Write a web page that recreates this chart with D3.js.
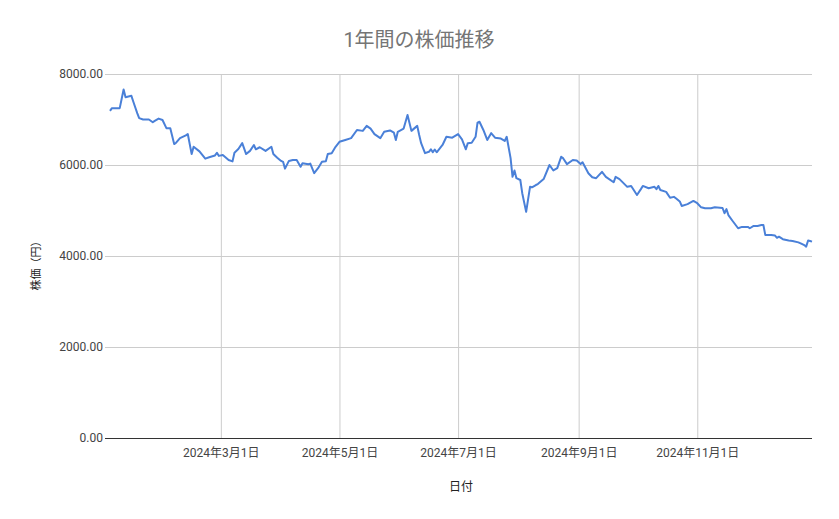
<!DOCTYPE html>
<html lang="ja">
<head>
    <meta charset="UTF-8">
    <script src="https://cdnjs.cloudflare.com/ajax/libs/d3/7.8.5/d3.min.js"></script>
    <title>1年間の株価推移</title>
    <style>
        body { margin: 0; background: #fff; }
        text { font-family: Roboto, 'Noto Sans CJK JP', sans-serif; }
    </style>
</head>
<body>
    <div id="chart"></div>

    <script>
    // data (daily close, yen)
    let dates = [
        "2024-01-04","2024-01-05","2024-01-09","2024-01-11","2024-01-12","2024-01-13","2024-01-15","2024-01-16",
        "2024-01-18","2024-01-19","2024-01-21","2024-01-24","2024-01-26","2024-01-27","2024-01-29","2024-01-31",
        "2024-02-02","2024-02-04","2024-02-06","2024-02-07","2024-02-09","2024-02-12","2024-02-13","2024-02-15",
        "2024-02-16","2024-02-19","2024-02-22","2024-02-24","2024-02-27","2024-02-28","2024-02-29","2024-03-02",
        "2024-03-05","2024-03-07","2024-03-08","2024-03-10","2024-03-12","2024-03-14","2024-03-16","2024-03-18",
        "2024-03-19","2024-03-21","2024-03-24","2024-03-27","2024-03-28","2024-03-30","2024-04-01","2024-04-02",
        "2024-04-03","2024-04-05","2024-04-07","2024-04-09","2024-04-11","2024-04-12","2024-04-15","2024-04-16",
        "2024-04-18","2024-04-20","2024-04-22","2024-04-24","2024-04-25","2024-04-27","2024-04-29","2024-05-01",
        "2024-05-04","2024-05-07","2024-05-10","2024-05-13","2024-05-15","2024-05-17","2024-05-19","2024-05-22",
        "2024-05-24","2024-05-27","2024-05-29","2024-05-30","2024-05-31","2024-06-03","2024-06-05","2024-06-07",
        "2024-06-10","2024-06-11","2024-06-12","2024-06-14","2024-06-16","2024-06-17","2024-06-18","2024-06-19",
        "2024-06-20","2024-06-23","2024-06-25","2024-06-28","2024-07-01","2024-07-03","2024-07-05","2024-07-06",
        "2024-07-08","2024-07-10","2024-07-11","2024-07-12","2024-07-14","2024-07-16","2024-07-18","2024-07-20",
        "2024-07-23","2024-07-25","2024-07-26","2024-07-28","2024-07-29","2024-07-30","2024-07-31","2024-08-02",
        "2024-08-03","2024-08-05","2024-08-07","2024-08-08","2024-08-10","2024-08-11","2024-08-14","2024-08-17",
        "2024-08-19","2024-08-21","2024-08-23","2024-08-24","2024-08-26","2024-08-29","2024-08-31","2024-09-02",
        "2024-09-03","2024-09-06","2024-09-08","2024-09-10","2024-09-13","2024-09-15","2024-09-19","2024-09-20",
        "2024-09-22","2024-09-26","2024-09-28","2024-10-01","2024-10-03","2024-10-04","2024-10-07","2024-10-10",
        "2024-10-11","2024-10-12","2024-10-13","2024-10-16","2024-10-18","2024-10-20","2024-10-21","2024-10-23",
        "2024-10-24","2024-10-27","2024-10-30","2024-11-01","2024-11-03","2024-11-05","2024-11-08","2024-11-10",
        "2024-11-14","2024-11-15","2024-11-16","2024-11-17","2024-11-19","2024-11-22","2024-11-24","2024-11-27",
        "2024-11-28","2024-11-30","2024-12-02","2024-12-04","2024-12-05","2024-12-06","2024-12-09","2024-12-11",
        "2024-12-12","2024-12-13","2024-12-15","2024-12-18","2024-12-20","2024-12-23","2024-12-25","2024-12-26",
        "2024-12-27","2024-12-28","2024-12-29","2024-12-30"
    ];
    let prices = [
        7190, 7250, 7250, 7660, 7490, 7500, 7520, 7390,
        7140, 7030, 7000, 7000, 6940, 6970, 7020, 6990,
        6810, 6810, 6460, 6490, 6590, 6650, 6680, 6240,
        6400, 6300, 6140, 6170, 6210, 6270, 6200, 6220,
        6110, 6080, 6270, 6350, 6480, 6240, 6310, 6440,
        6345, 6390, 6310, 6400, 6240, 6160, 6090, 6070,
        5920, 6090, 6110, 6110, 5960, 6040, 6015, 6030,
        5820, 5930, 6070, 6080, 6240, 6260, 6400, 6510,
        6550, 6590, 6770, 6750, 6860, 6800, 6680, 6590,
        6730, 6760, 6710, 6550, 6730, 6800, 7100, 6750,
        6860, 6660, 6480, 6260, 6290, 6345, 6280, 6340,
        6280, 6440, 6620, 6600, 6680, 6565, 6345, 6480,
        6490, 6620, 6930, 6950, 6770, 6550, 6700, 6600,
        6580, 6530, 6620, 6150, 5740, 5880, 5710, 5670,
        5380, 4970, 5520, 5510, 5560, 5580, 5690, 6000,
        5880, 5930, 6180, 6150, 6020, 6110, 6100, 6020,
        6060, 5820, 5730, 5710, 5850, 5740, 5620, 5740,
        5690, 5520, 5540, 5340, 5470, 5540, 5490, 5520,
        5470, 5540, 5450, 5410, 5280, 5300, 5270, 5200,
        5100, 5140, 5210, 5160, 5070, 5050, 5050, 5070,
        5055, 4940, 5030, 4900, 4780, 4610, 4640, 4640,
        4610, 4660, 4660, 4680, 4680, 4460, 4460, 4450,
        4400, 4425, 4370, 4340, 4330, 4300, 4260, 4240,
        4205, 4340, 4330, 4315
    ];
    let yTicks = [0, 2000, 4000, 6000, 8000];
    let xTickDates = ["2024-03-01", "2024-05-01", "2024-07-01", "2024-09-01", "2024-11-01"];
    let xTickLabels = ["2024年3月1日", "2024年5月1日", "2024年7月1日", "2024年9月1日", "2024年11月1日"];

    let width = 839;
    let height = 519;
    // plot area edges
    let plotLeft = 110, plotRight = 812, plotTop = 74, plotBottom = 438;
    let gridLeft = 105;

    let parse = d3.timeParse("%Y-%m-%d");
    let data = dates.map(function(d, i) {
        return { date: parse(d), price: prices[i] };
    });

    let x = d3.scaleTime()
        .domain(d3.extent(data, function(d) { return d.date; }))
        .range([plotLeft, plotRight]);

    let y = d3.scaleLinear()
        .domain([0, 8000])
        .range([plotBottom, plotTop]);

    let svg = d3.select("#chart")
        .append("svg")
        .attr("width", width)
        .attr("height", height);

    svg.append("rect")
        .attr("width", width)
        .attr("height", height)
        .attr("fill", "#fff");

    // vertical grid + date labels
    let xAxis = svg.append("g")
        .attr("transform", "translate(0," + plotBottom + ")")
        .call(d3.axisBottom(x)
            .tickValues(xTickDates.map(parse))
            .tickSize(-(plotBottom - plotTop))
            .tickPadding(10)
            .tickFormat(function(d, i) { return xTickLabels[i]; }));
    xAxis.select(".domain").remove();
    xAxis.selectAll("line").attr("stroke", "#cccccc");
    xAxis.selectAll("text")
        .attr("fill", "#444")
        .attr("font-size", "12px")
        .style("font-family", "Roboto, 'Noto Sans CJK JP', sans-serif");

    // horizontal grid + value labels
    let yAxis = svg.append("g")
        .attr("transform", "translate(" + gridLeft + ",0)")
        .call(d3.axisLeft(y)
            .tickValues(yTicks)
            .tickSize(-(plotRight - gridLeft))
            .tickPadding(2)
            .tickFormat(d3.format(".2f")));
    yAxis.select(".domain").remove();
    yAxis.selectAll("line")
        .attr("stroke", function(d) { return d === 0 ? "#333" : "#cccccc"; });
    yAxis.selectAll("text")
        .attr("fill", "#444")
        .attr("font-size", "12px")
        .style("font-family", "Roboto, 'Noto Sans CJK JP', sans-serif");

    // the price line
    let line = d3.line()
        .x(function(d) { return x(d.date); })
        .y(function(d) { return y(d.price); });

    svg.append("path")
        .datum(data)
        .attr("d", line)
        .attr("fill", "none")
        .attr("stroke", "#4a80d8")
        .attr("stroke-width", 2)
        .attr("stroke-linejoin", "round");

    // titles
    svg.append("text")
        .text("1年間の株価推移")
        .attr("x", 419)
        .attr("y", 47)
        .attr("text-anchor", "middle")
        .attr("font-size", "20px")
        .attr("fill", "#757575");

    svg.append("text")
        .text("日付")
        .attr("x", (plotLeft + plotRight) / 2)
        .attr("y", 491)
        .attr("text-anchor", "middle")
        .attr("font-size", "12px")
        .attr("fill", "#222");

    svg.append("text")
        .text("株価（円）")
        .attr("transform", "translate(40,263) rotate(-90)")
        .attr("text-anchor", "middle")
        .attr("font-size", "11px")
        .attr("fill", "#222");
    </script>
</body>
</html>
